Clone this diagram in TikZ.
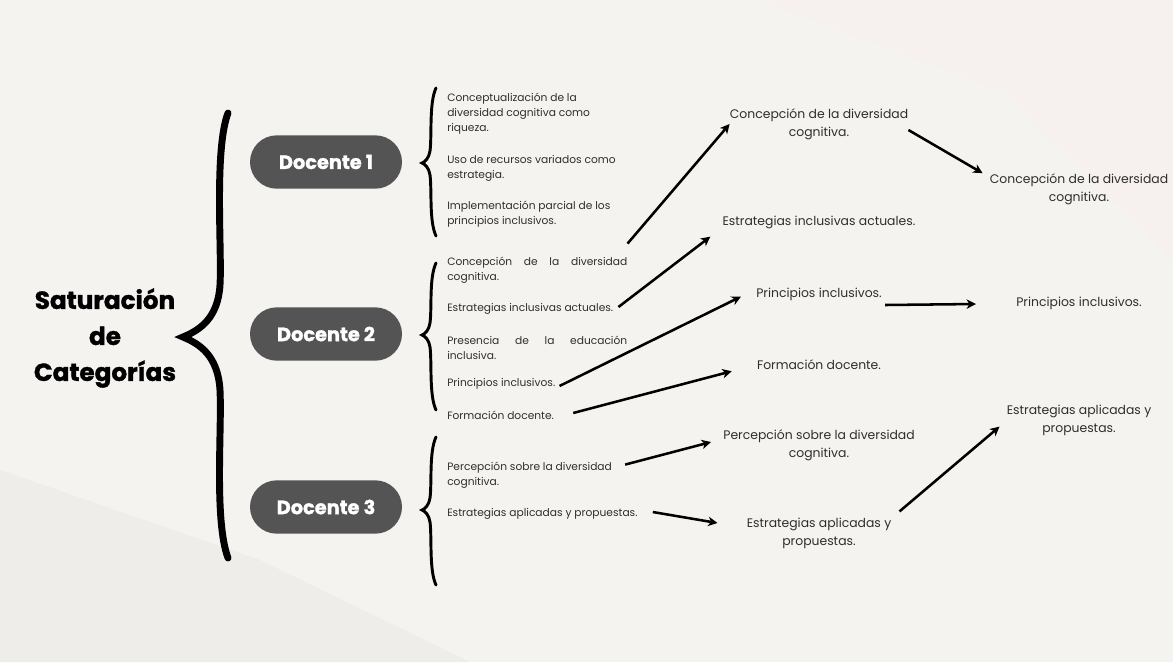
\documentclass[tikz,border=0pt]{standalone}
\usepackage{fontspec}
\setmainfont{Poppins}
\newfontfamily\heavy[BoldFeatures={FakeBold=1.3}]{Poppins}
\usetikzlibrary{arrows.meta}
\definecolor{paper}{HTML}{F4F3EF}
\definecolor{fondoA}{HTML}{EEEDE9}
\definecolor{fondoB}{HTML}{F6F0EE}
\definecolor{pill}{HTML}{545454}
\definecolor{ink}{HTML}{2E2E2E}
\begin{document}
\begin{tikzpicture}[x=0.75pt,y=-0.75pt,item/.style={anchor=west,align=left,inner sep=0pt,text=ink,font=\fontsize{8}{11.25}\selectfont},cat/.style={align=center,inner sep=0pt,text=ink,font=\fontsize{9.3}{13.5}\selectfont},docente/.style={fill=pill,text=white,rounded corners=20pt,minimum width=114pt,minimum height=40pt,font=\fontsize{14.5}{16}\heavy\bfseries},titulo/.style={align=center,inner sep=0pt,font=\fontsize{18.5}{27}\heavy\bfseries},arr/.style={line width=1.9pt,-{Stealth[length=7pt,width=7pt,inset=2pt]}}]
\def\xs{447};
\def\xm{819};
\def\xr{1079};
\def\wj{135pt};

\fill[paper] (0,0) rectangle (1173,662);
\fill[fondoA] (0,470) -- (260,560) -- (470,662) -- (0,662) -- cycle;
\fill[fondoB] (760,0) -- (1173,0) -- (1173,260) -- (1000,90) -- cycle;
\useasboundingbox (0,0) rectangle (1173,662);

% big brace
\draw[line width=5.2pt,line cap=round] (228,113) .. controls (214,150) and (222,250) .. (220,285) .. controls (218,318) and (200,330) .. (183,337) .. controls (200,344) and (218,356) .. (220,390) .. controls (222,430) and (214,520) .. (228,558);
\node[titulo] (T) at (105,338) {Saturación\\de\\Categorías};

\node[docente] (D1) at (326,162) {Docente 1};
\node[docente] (D2) at (326,334) {Docente 2};
\node[docente] (D3) at (326,507) {Docente 3};

% small braces
\foreach \t/\m/\b in {88/163/236,263/335/410,437/510/585}
  \draw[line width=2.2pt,line cap=round] (436,\t) .. controls (429,\t+15) and (432,\m-28) .. (430,\m-12) .. controls (429,\m-5) and (425,\m-1) .. (422,\m) .. controls (425,\m+1) and (429,\m+5) .. (430,\m+12) .. controls (432,\m+28) and (429,\b-15) .. (436,\b);

% docente 1
\node[item] (s1a) at (\xs,114) {Conceptualización de la\\diversidad cognitiva como\\riqueza.};
\node[item] (s1b) at (\xs,168) {Uso de recursos variados como\\estrategia.};
\node[item] (s1c) at (\xs,214) {Implementación parcial de los\\principios inclusivos.};
% docente 2
\node[item] (s2a) at (\xs,270) {\makebox[\wj][s]{Concepción de la diversidad}\\cognitiva.};
\node[item] (s2b) at (\xs,309) {Estrategias inclusivas actuales.};
\node[item] (s2c) at (\xs,348) {\makebox[\wj][s]{Presencia de la educación}\\inclusiva.};
\node[item] (s2d) at (\xs,384) {Principios inclusivos.};
\node[item] (s2e) at (\xs,415) {Formación docente.};
% docente 3
\node[item] (s3a) at (\xs,475) {Percepción sobre la diversidad\\cognitiva.};
\node[item] (s3b) at (\xs,514) {Estrategias aplicadas y propuestas.};

% middle column
\node[cat] (m1) at (\xm,124) {Concepción de la diversidad\\cognitiva.};
\node[cat] (m2) at (\xm,222) {Estrategias inclusivas actuales.};
\node[cat] (m3) at (\xm,294) {Principios inclusivos.};
\node[cat] (m4) at (\xm,365) {Formación docente.};
\node[cat] (m5) at (\xm,445) {Percepción sobre la diversidad\\cognitiva.};
\node[cat] (m6) at (\xm,533) {Estrategias aplicadas y\\propuestas.};

% right column
\node[cat] (r1) at (\xr,189) {Concepción de la diversidad\\cognitiva.};
\node[cat] (r2) at (\xr,303) {Principios inclusivos.};
\node[cat] (r3) at (\xr,420) {Estrategias aplicadas y\\propuestas.};

\draw[arr] ([shift={(0,-13)}]s2a.north east) -- (m1.west);
\draw[arr] ([shift={(5,-2)}]s2b.east) -- ([shift={(-12,8)}]m2.south west);
\draw[arr] ([shift={(4,2)}]s2d.east) -- ([shift={(-15,-4)}]m3.south west);
\draw[arr] ([shift={(19,-2)}]s2e.east) -- ([shift={(-25,1)}]m4.south west);
\draw[arr] ([shift={(13,3)}]s3a.north east) -- ([shift={(-12,-3)}]m5.west);
\draw[arr] ([shift={(15,-2)}]s3b.east) -- ([shift={(-29,-10)}]m6.west);

\draw[arr] ([shift={(0,6)}]m1.east) -- ([shift={(-7,0)}]r1.north west);
\draw[arr] ([shift={(3,11)}]m3.east) -- ([shift={(-40,1)}]r2.west);
\draw[arr] ([shift={(8,-6)}]m6.north east) -- ([shift={(-7,-9)}]r3.south west);
\end{tikzpicture}
\end{document}
